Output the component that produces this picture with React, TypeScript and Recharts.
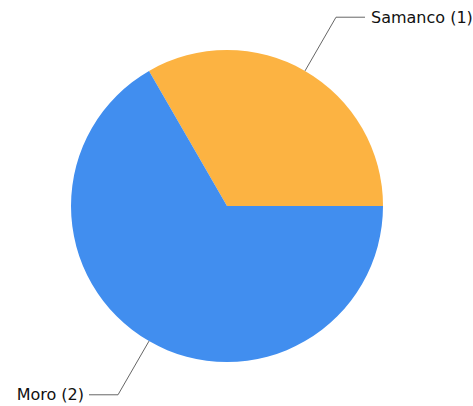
import React from 'react';
import { PieChart, Pie, Cell } from 'recharts';

const names = ['Samanco', 'Moro'];
const counts = [1, 2];
const colors = ['#FCB342', '#418EEF'];

const data = names.map((name, i) => ({ name, value: counts[i] }));

const RADIAN = Math.PI / 180;

const renderLabel = (props: any) => {
    const { cx, cy, midAngle, outerRadius, name, value } = props;
    const cos = Math.cos(-midAngle * RADIAN);
    const sin = Math.sin(-midAngle * RADIAN);
    const sx = cx + outerRadius * cos;
    const sy = cy + outerRadius * sin;
    const mx = cx + (outerRadius + 62) * cos;
    const my = cy + (outerRadius + 62) * sin;
    const right = cos >= 0;
    const ex = mx + (right ? 1 : -1) * 29;
    const ey = my;
    return (
        <g>
            <path d={`M${sx},${sy}L${mx},${my}L${ex},${ey}`} stroke="#666" strokeWidth={1} fill="none" />
            <text
                x={ex + (right ? 6 : -5)}
                y={ey}
                textAnchor={right ? 'start' : 'end'}
                dominantBaseline="central"
                fill="#111"
                fontSize={16}
                fontFamily="DejaVu Sans"
            >
                {`${name} (${value})`}
            </text>
        </g>
    );
};

if (typeof document !== 'undefined') {
    document.body.style.margin = '0';
}

export default function App() {
    return (
        <PieChart width={473} height={406} margin={{ top: 0, right: 0, bottom: 0, left: 0 }}>
            <Pie
                data={data}
                dataKey="value"
                nameKey="name"
                cx={227}
                cy={206}
                outerRadius={156}
                startAngle={0}
                endAngle={360}
                stroke="none"
                label={renderLabel}
                labelLine={false}
                isAnimationActive={false}
            >
                {data.map((d, i) => (
                    <Cell key={d.name} fill={colors[i]} />
                ))}
            </Pie>
        </PieChart>
    );
}
